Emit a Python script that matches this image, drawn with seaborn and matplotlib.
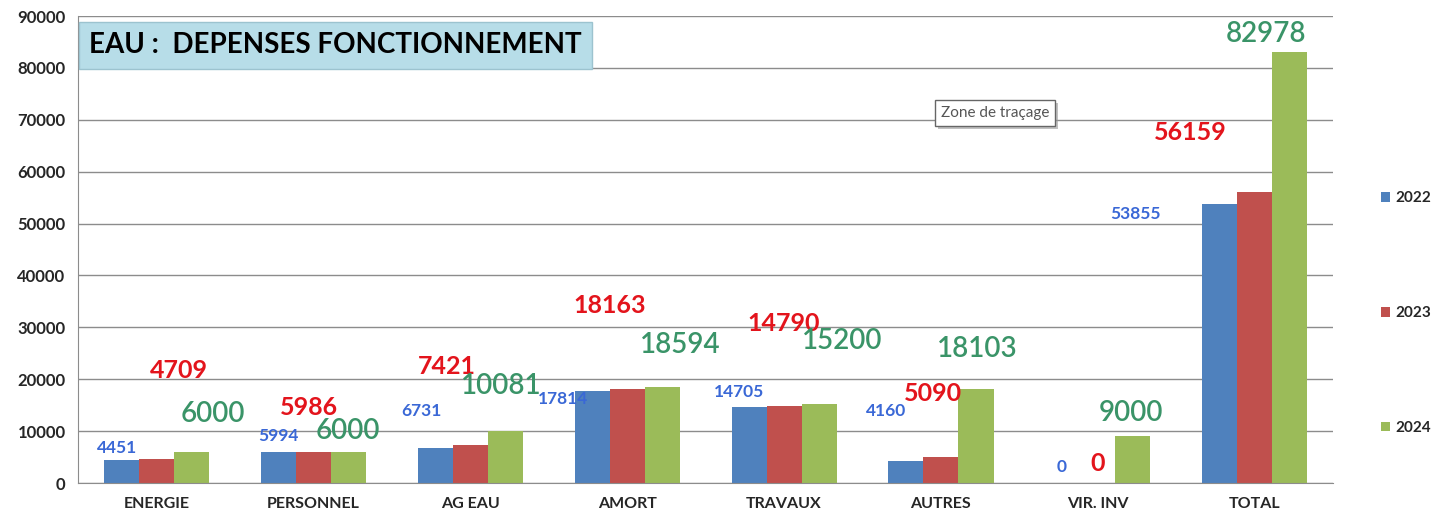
import pandas as pd
import matplotlib.pyplot as plt
import matplotlib.patheffects as pe
import seaborn as sns

# Data
categories = ["ENERGIE", "PERSONNEL", "AG EAU", "AMORT", "TRAVAUX", "AUTRES", "VIR. INV", "TOTAL"]
years = ["2022", "2023", "2024"]
v2022 = [4451, 5994, 6731, 17814, 14705, 4160, 0, 53855]
v2023 = [4709, 5986, 7421, 18163, 14790, 5090, 0, 56159]
v2024 = [6000, 6000, 10081, 18594, 15200, 18103, 9000, 82978]

# where the value labels were dragged to (offset in categories, y in data units)
lab_dx = [
    [-0.25, -0.22, -0.31, -0.41, -0.29, -0.35, -0.23, -0.76],
    [0.14, -0.03, -0.15, -0.11, 0.0, -0.05, 0.0, -0.41],
    [0.36, 0.22, 0.20, 0.34, 0.37, 0.23, 0.21, 0.07],
]
lab_y = [
    [6745, 9058, 13876, 16188, 17537, 13876, 3084, 51841],
    [21777, 14647, 22548, 34304, 30835, 17345, 3854, 67645],
    [13297, 10021, 18694, 26595, 27366, 25824, 13490, 86531],
]

df = pd.DataFrame({
    "cat": categories * 3,
    "year": [y for y in years for _ in categories],
    "value": v2022 + v2023 + v2024,
})

bar_colors = ["#4F81BD", "#C0504D", "#9BBB59"]
lab_colors = ["#3A68D6", "#E3141C", "#3A9468"]
lab_sizes = [12.5, 18, 20]
lab_weights = ["bold", "bold", "semibold"]

sns.set_style("white")
plt.rcParams["font.family"] = ["Lato", "DejaVu Sans"]

fig = plt.figure(figsize=(14.51, 5.22), dpi=100)
ax = fig.add_axes([0.0538, 0.0747, 0.865, 0.8946])

sns.barplot(data=df, x="cat", y="value", hue="year", palette=bar_colors,
            width=0.67, saturation=1, linewidth=0, ax=ax, legend=True)

ax.set_ylim(0, 90000)
ax.set_xlim(-0.5, 7.5)
ax.set_yticks(range(0, 90001, 10000))
ax.set_yticklabels([str(v) for v in range(0, 90001, 10000)], fontsize=12, fontweight="bold")
ax.set_xticks(range(len(categories)))
ax.set_xticklabels(categories, fontsize=11.5, fontweight="bold")
ax.set_xticks([i + 0.5 for i in range(-1, len(categories))], minor=True)
ax.tick_params(axis="x", which="major", length=0, pad=10)
ax.tick_params(axis="x", which="minor", length=5, color="#888888", direction="out")
ax.tick_params(axis="y", length=5, color="#888888", direction="out", pad=4)
ax.set_xlabel("")
ax.set_ylabel("")
ax.yaxis.grid(True, color="#8c8c8c", linewidth=1)
ax.set_axisbelow(True)
for s in ["top", "right"]:
    ax.spines[s].set_visible(False)
for s in ["left", "bottom"]:
    ax.spines[s].set_color("#8c8c8c")

# value labels
for k, vals in enumerate([v2022, v2023, v2024]):
    for i, v in enumerate(vals):
        ax.text(i + lab_dx[k][i], lab_y[k][i], str(v), color=lab_colors[k],
                fontsize=lab_sizes[k], fontweight=lab_weights[k],
                ha="center", va="center")

# legend spread down the right side
handles, labels = ax.get_legend_handles_labels()
ax.legend(handles, labels, loc="center left", bbox_to_anchor=(0.942, 0.40),
          bbox_transform=fig.transFigure, frameon=False, handlelength=0.6,
          handleheight=0.6, handletextpad=0.4, labelspacing=6.6,
          prop={"weight": "bold", "size": 11})

# title box
fig.text(0.0615, 0.913, "EAU :  DEPENSES FONCTIONNEMENT", fontsize=20, fontweight="bold",
         color="black", ha="left", va="center",
         bbox=dict(boxstyle="square,pad=0.38", facecolor="#B7DDE8", edgecolor="#9CC3CF"))

# the "Zone de traçage" tooltip, with a soft shadow
tip = fig.text(0.6485, 0.783, "Zone de traçage", color="#555555", fontsize=11,
               ha="left", va="center",
               bbox=dict(boxstyle="square,pad=0.4", facecolor="white", edgecolor="#666666"))
tip.get_bbox_patch().set_path_effects(
    [pe.withSimplePatchShadow(offset=(2, -2), shadow_rgbFace="#999999", alpha=0.6)])

fig.savefig("out.png", dpi=100)
